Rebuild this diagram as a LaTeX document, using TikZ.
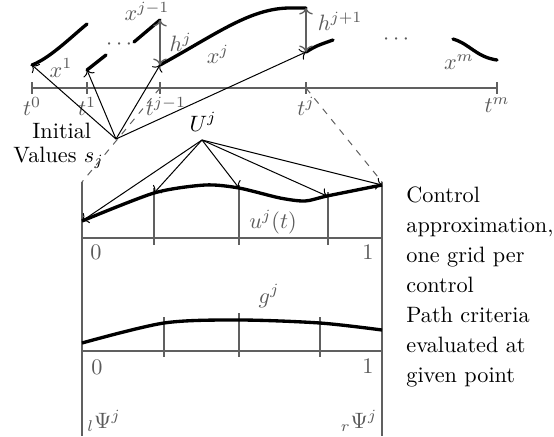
\documentclass[tikz,border=0pt]{standalone}
\usepackage{amsmath}
\usepackage{xcolor}
\usepackage{tikz}
\usetikzlibrary{arrows.meta,positioning,calc}
\definecolor{rulec}{HTML}{606060}
\definecolor{labc}{HTML}{5A5A5A}
\tikzset{
  axis/.style={draw=rulec,line width=1pt},
  tick/.style={draw=rulec,line width=0.8pt},
  traj/.style={line width=1.5pt,line cap=round},
  ctrl/.style={line width=1.5pt},
  feed/.style={->,line width=0.45pt},
  hgap/.style={<->,draw=rulec,line width=0.6pt},
  zoomline/.style={draw=rulec,dashed,line width=0.45pt},
  lab/.style={text=labc,inner sep=1pt},
  txt/.style={inner sep=0pt,align=left},
}
\begin{document}
\begin{tikzpicture}[x=0.45pt,y=-0.45pt]
  \useasboundingbox (0,0) rectangle (554,436);
  % --- time grid t^0 ... t^m ---
  \foreach \n/\x in {t0/32,t1/87,tjm/160,tj/306,tm/497}
    \coordinate (\n) at (\x,88);
  \draw[axis] (t0) -- (tm);
  \foreach \n in {t0,t1,tjm,tj,tm}
    \draw[tick] ([yshift=2.7pt]\n) -- ([yshift=-2.7pt]\n);
  \node[lab,below=3pt of t0]{$t^0$};
  \node[lab,below=3pt of t1]{$t^1$};
  \node[lab,below=3pt of tjm,xshift=2.7pt]{$t^{j-1}$};
  \node[lab,below=3pt of tj]{$t^j$};
  \node[lab,below=3pt of tm]{$t^m$};
  % --- trajectory pieces x^1 ... x^m ---
  \coordinate (x1s) at (32,65);
  \coordinate (x2s) at (87,70);
  \coordinate (xjme) at (160,20);
  \coordinate (xjs) at (160,65);
  \coordinate (xje) at (306,8);
  \coordinate (xjps) at (306,52);
  \draw[traj] (x1s) .. controls (50,58) and (70,38) .. (87,24);
  \draw[traj] (x2s) -- (106,55);
  \draw[traj] (134,42) -- (xjme);
  \draw[traj] (xjs) .. controls (215,35) and (250,8) .. (290,8) -- (xje);
  \draw[traj] (xjps) .. controls (316,46) .. (333,40);
  \draw[traj] (453,39) .. controls (470,44) and (476,57) .. (497,60);
  \node[lab] (dots1) at (121,45) {$\cdots$};
  \node[lab] (dots2) at (398,40) {$\cdots$};
  \node[lab] (x1) at (61,68) {$x^1$};
  \node[lab] (xjm) at (147,11) {$x^{j-1}$};
  \node[lab] (xj) at (218,54) {$x^j$};
  \node[lab] (xm) at (459,62) {$x^m$};
  \draw[hgap] (xjme) -- (xjs) node[lab,midway,right=3pt]{$h^j$};
  \draw[hgap] (xje) -- (xjps) node[lab,midway,right=4pt,yshift=4pt]{$h^{j+1}$};
  % --- initial values ---
  \node[txt,anchor=base west] (init) at (32,138) {Initial};
  \node[txt,anchor=base west] (vals) at (13,162) {Values $s_j$};
  \coordinate (iv) at (116,139);
  \foreach \p in {x1s,x2s,xjs,xjps} \draw[feed] (iv) -- (\p);
  % --- zoom into interval j ---
  \coordinate (bl) at (82,182);
  \coordinate (br) at (382,182);
  \draw[zoomline] (tjm) -- (bl);
  \draw[zoomline] (tj) -- (br);
  \draw[axis] (bl) -- (82,436);
  \draw[axis] (br) -- (382,436);
  % control grid
  \draw[axis] (82,238) -- (382,238);
  \foreach \x/\y in {154/188,239/185,328/192}
    \draw[tick] (\x,\y) -- (\x,245);
  \coordinate (u0) at (82,221);
  \coordinate (u1) at (154,193);
  \coordinate (u2) at (239,188);
  \coordinate (u3) at (327,196);
  \coordinate (u4) at (382,185);
  \draw[ctrl] plot[smooth,tension=0.45] coordinates
    {(u0) (u1) (205,185) (u2) (280,198) (305,201) (u3) (u4)};
  \node[anchor=base] (Uj) at (203,131) {$U^j$};
  \coordinate (uj) at (202,140);
  \foreach \p in {u0,u1,u2,u3,u4} \draw[feed] (uj) -- (\p);
  \node[lab] (ujt) at (273,222) {$u^j(t)$};
  \node[lab] (z0) at (96,252) {$0$};
  \node[lab] (z1) at (368,252) {$1$};
  % path criteria grid
  \draw[axis] (82,351) -- (382,351);
  \foreach \x/\y in {164/317,239/313,320/317}
    \draw[tick] (\x,\y) -- (\x,357);
  \draw[ctrl] plot[smooth,tension=0.5] coordinates
    {(82,343) (164,323) (239,320) (320,323) (382,330)};
  \node[lab] (gj) at (269,296) {$g^j$};
  \node[lab] (w0) at (97,367) {$0$};
  \node[lab] (w1) at (368,366) {$1$};
  \node[lab] (psil) at (104,421) {${}_l\Psi^j$};
  \node[lab] (psir) at (359,421) {${}_r\Psi^j$};
  % --- notes ---
  \node[txt,anchor=north west] (note) at (406,186)
    {Control\\[1.5pt]approximation,\\[1.5pt]one grid per\\[1.5pt]control\\[1.5pt]Path criteria\\[1.5pt]evaluated at\\[1.5pt]given point};
\end{tikzpicture}
\end{document}
